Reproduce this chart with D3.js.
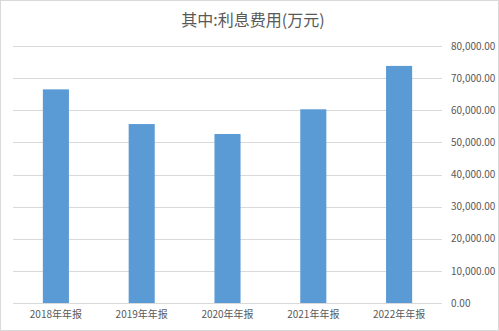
<!DOCTYPE html>
<html>
<head>
<meta charset="utf-8">
<script src="https://cdn.jsdelivr.net/npm/d3@7"></script>
<style>
  body { margin: 0; background: #fff; }
  text { font-family: "Noto Sans CJK SC", "Noto Sans", sans-serif; fill: #595959; }
</style>
</head>
<body>
<div id="viz"></div>
<script>
const title = '其中:利息费用(万元)';
const categories = ['2018年年报', '2019年年报', '2020年年报', '2021年年报', '2022年年报'];
const values = [66500, 55700, 52600, 60300, 73800];
const yTicks = [0, 10000, 20000, 30000, 40000, 50000, 60000, 70000, 80000];

const width = 499;
const height = 331;
const margin = { top: 46, right: 57, bottom: 28, left: 13 };

const svg = d3.select('#viz')
  .append('svg')
  .attr('width', width)
  .attr('height', height);

// border
svg.append('rect')
  .attr('x', 0.5)
  .attr('y', 0.5)
  .attr('width', width - 1)
  .attr('height', height - 1)
  .attr('fill', 'none')
  .attr('stroke', '#d9d9d9');

const x = d3.scaleBand()
  .domain(categories)
  .range([margin.left, width - margin.right])
  .paddingInner(0.696)
  .paddingOuter(0.348);

const y = d3.scaleLinear()
  .domain([0, 80000])
  .range([height - margin.bottom, margin.top]);

// gridlines
svg.append('g')
  .selectAll('line')
  .data(yTicks)
  .join('line')
  .attr('x1', margin.left)
  .attr('x2', width - margin.right)
  .attr('y1', d => Math.round(y(d)) + 0.5)
  .attr('y2', d => Math.round(y(d)) + 0.5)
  .attr('stroke', '#d9d9d9')
  .attr('stroke-width', 1);

// bars
svg.append('g')
  .selectAll('rect')
  .data(values)
  .join('rect')
  .attr('x', (d, i) => x(categories[i]))
  .attr('y', d => y(d))
  .attr('width', x.bandwidth())
  .attr('height', d => y(0) - y(d))
  .attr('fill', '#5b9bd5');

// right axis
const yAxis = svg.append('g')
  .attr('transform', `translate(${width - margin.right + 6},0)`)
  .call(d3.axisRight(y).tickValues(yTicks).tickSize(0).tickFormat(d3.format(',.2f')));
yAxis.select('.domain').remove();
yAxis.selectAll('text')
  .attr('font-size', '10px')
  .attr('fill', '#595959');

// bottom axis
const xAxis = svg.append('g')
  .attr('transform', `translate(0,${height - margin.bottom})`)
  .call(d3.axisBottom(x).tickSize(0).tickPadding(8));
xAxis.select('.domain').remove();
xAxis.selectAll('text')
  .attr('font-size', '10px')
  .attr('fill', '#595959');

// title
svg.append('text')
  .attr('x', 253)
  .attr('y', 26)
  .attr('text-anchor', 'middle')
  .attr('font-size', '16px')
  .text(title);
</script>
</body>
</html>
